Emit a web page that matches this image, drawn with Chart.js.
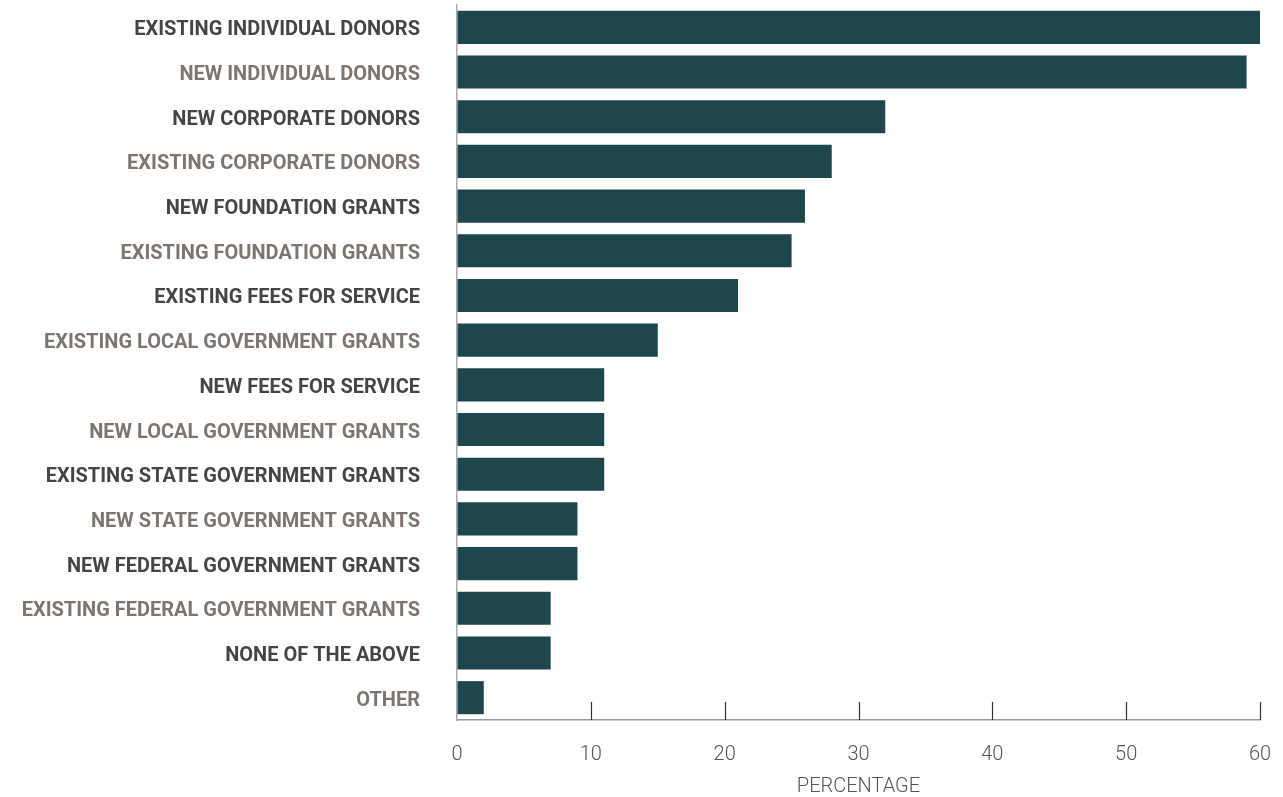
<!DOCTYPE html>
<html><head><meta charset="utf-8">
<script src="https://cdn.jsdelivr.net/npm/chart.js@4"></script>
<style>html,body{margin:0;padding:0;background:#fff;}canvas{display:block;}</style>
</head><body>
<canvas id="c" width="1283" height="797"></canvas>
<script>
const categories = [
  "EXISTING INDIVIDUAL DONORS","NEW INDIVIDUAL DONORS","NEW CORPORATE DONORS","EXISTING CORPORATE DONORS",
  "NEW FOUNDATION GRANTS","EXISTING FOUNDATION GRANTS","EXISTING FEES FOR SERVICE","EXISTING LOCAL GOVERNMENT GRANTS",
  "NEW FEES FOR SERVICE","NEW LOCAL GOVERNMENT GRANTS","EXISTING STATE GOVERNMENT GRANTS","NEW STATE GOVERNMENT GRANTS",
  "NEW FEDERAL GOVERNMENT GRANTS","EXISTING FEDERAL GOVERNMENT GRANTS","NONE OF THE ABOVE","OTHER"
];
const percentages = [60,59,32,28,26,25,21,15,11,11,11,9,9,7,7,2];
const xTicks = [0,10,20,30,40,50,60];
const axisTitle = "PERCENTAGE";

const tickMarks = {
  id:'tickMarks',
  afterDraw(chart){
    const x = chart.scales.x, ctx = chart.ctx, b = chart.chartArea.bottom;
    ctx.save();
    ctx.strokeStyle = '#333'; ctx.lineWidth = 1.2;
    xTicks.forEach(v=>{ if(v===0) return;
      const px = Math.round(x.getPixelForValue(v))+0.5;
      ctx.beginPath(); ctx.moveTo(px,b-18); ctx.lineTo(px,b); ctx.stroke();
    });
    ctx.restore();
  }
};

new Chart(document.getElementById('c'),{
  type:'bar',
  data:{labels:categories,datasets:[{data:percentages,backgroundColor:'#1e474d',barPercentage:0.74,categoryPercentage:1}]},
  options:{
    indexAxis:'y',responsive:false,animation:false,
    layout:{padding:{top:5,right:23,left:0,bottom:0}},
    plugins:{legend:{display:false},tooltip:{enabled:false}},
    scales:{
      x:{min:0,max:60,afterBuildTicks(s){s.ticks=xTicks.map(v=>({value:v}));},
        afterFit(s){s.height=77;s.paddingLeft=0;s.paddingRight=0;},
        grid:{display:true,drawOnChartArea:false,drawTicks:false},
        border:{display:true,color:'#999',width:1.5},
        ticks:{padding:23,color:'#555',font:{family:'Roboto',size:20,weight:'300'}},
        title:{display:true,text:axisTitle,color:'#555',font:{family:'Roboto',size:20,weight:'300',lineHeight:1},padding:{top:0,bottom:0}}
      },
      y:{afterFit(s){s.width=457;s.paddingTop=0;s.paddingBottom=0;},
        grid:{display:false,drawTicks:false},
        border:{display:true,color:'#aaa',width:1.5},
        ticks:{padding:37,labelOffset:3,color:(c)=>c.index%2===0?'#454545':'#7c7572',font:{family:'Roboto',size:20,weight:'bold'}}
      }
    }
  },
  plugins:[tickMarks]
});
</script>
</body></html>
